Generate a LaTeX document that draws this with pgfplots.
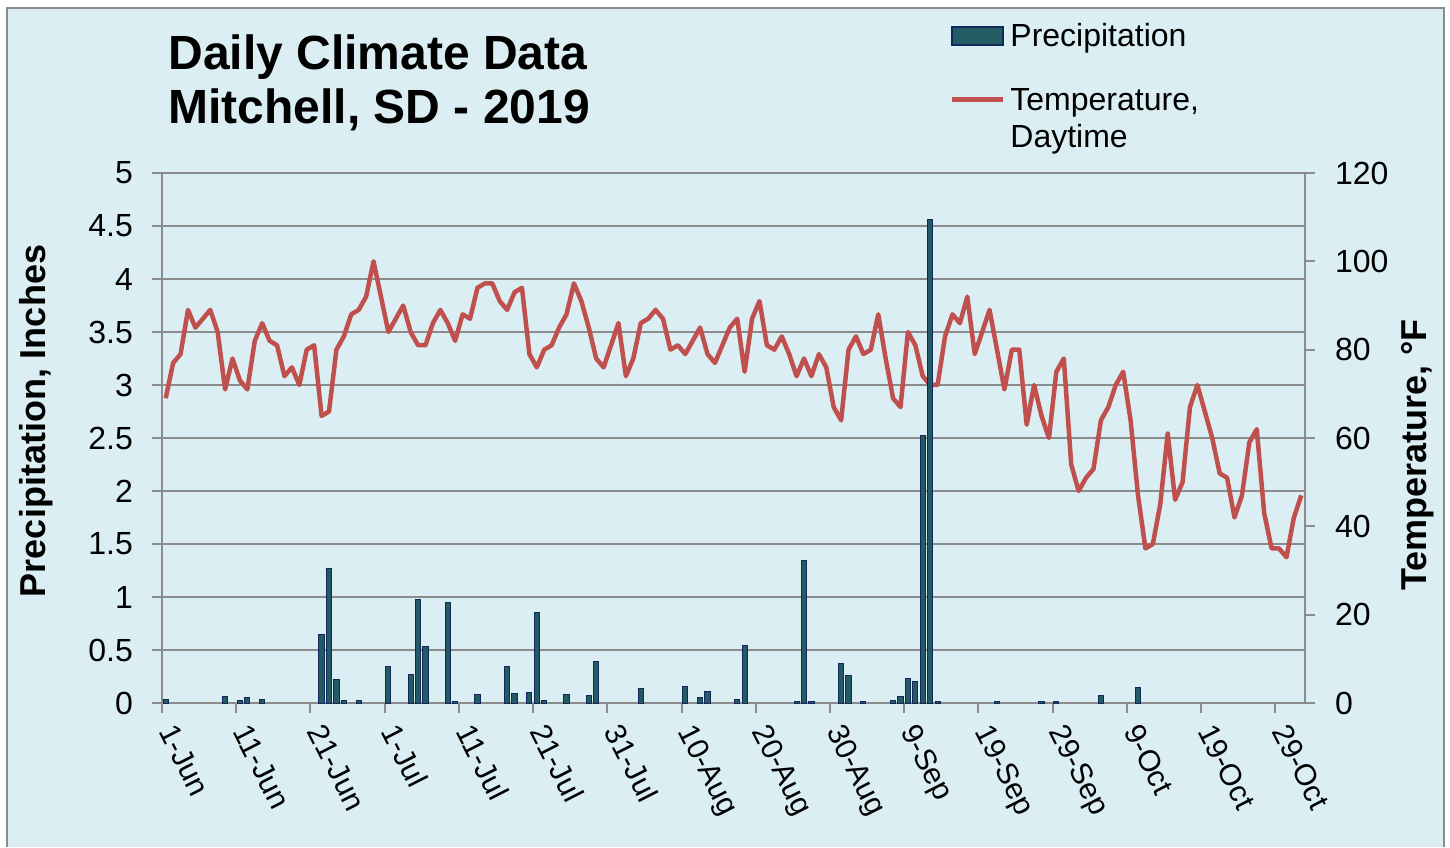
\documentclass[border=0pt]{standalone}
\usepackage{pgfplots}
\pgfplotsset{compat=1.18}
\usepackage{pgfplotstable}
\usepackage{fontspec}
\setmainfont{Liberation Sans}

\definecolor{chartbg}{HTML}{DAEEF3}
\definecolor{gridgray}{HTML}{8C8C8C}
\definecolor{tempred}{HTML}{C0504D}
\definecolor{barfill}{HTML}{235A64}
\definecolor{baredge}{HTML}{10295A}

% day 0 = 1-Jun
\pgfplotstableread{
day temp
0 69
1 77
2 79
3 89
4 85
5 87
6 89
7 84
8 71
9 78
10 73
11 71
12 82
13 86
14 82
15 81
16 74
17 76
18 72
19 80
20 81
21 65
22 66
23 80
24 83
25 88
26 89
27 92
28 100
29 92
30 84
31 87
32 90
33 84
34 81
35 81
36 86
37 89
38 86
39 82
40 88
41 87
42 94
43 95
44 95
45 91
46 89
47 93
48 94
49 79
50 76
51 80
52 81
53 85
54 88
55 95
56 91
57 85
58 78
59 76
60 81
61 86
62 74
63 78
64 86
65 87
66 89
67 87
68 80
69 81
70 79
71 82
72 85
73 79
74 77
75 81
76 85
77 87
78 75
79 87
80 91
81 81
82 80
83 83
84 79
85 74
86 78
87 74
88 79
89 76
90 67
91 64
92 80
93 83
94 79
95 80
96 88
97 78
98 69
99 67
100 84
101 81
102 74
103 72
104 72
105 83
106 88
107 86
108 92
109 79
110 84
111 89
112 80
113 71
114 80
115 80
116 63
117 72
118 65
119 60
120 75
121 78
122 54
123 48
124 51
125 53
126 64
127 67
128 72
129 75
130 64
131 47
132 35
133 36
134 45
135 61
136 46
137 50
138 67
139 72
140 66
141 60
142 52
143 51
144 42
145 47
146 59
147 62
148 43
149 35
150 35
151 33
152 42
153 47
}\temptable

\pgfplotstableread{
day precip
0 0.03
8 0.06
10 0.02
11 0.05
13 0.03
21 0.65
22 1.27
23 0.22
24 0.02
26 0.02
30 0.34
33 0.27
34 0.98
35 0.53
38 0.95
39 0.01
42 0.08
46 0.34
47 0.09
49 0.10
50 0.85
51 0.02
54 0.08
57 0.07
58 0.39
64 0.14
70 0.16
72 0.05
73 0.11
77 0.03
78 0.54
85 0.01
86 1.34
87 0.01
91 0.37
92 0.26
94 0.01
98 0.02
99 0.06
100 0.23
101 0.20
102 2.52
103 4.56
104 0.01
112 0.01
118 0.01
120 0.01
126 0.07
131 0.15
}\preciptable

\pgfplotsset{
  base/.style={
    at={(81pt,72pt)}, anchor=south west,
    scale only axis, width=571.5pt, height=265pt,
    xmin=-0.5, xmax=153.5,
    /pgf/number format/assume math mode=true,
    ticklabel style={font=\fontsize{16}{19}\selectfont},
    tick align=outside, major tick length=5pt,
    tick style={gridgray, line width=1pt},
    axis line style={gridgray, line width=1pt, -},
  },
}

\begin{document}
\begin{tikzpicture}
\useasboundingbox (0,0) rectangle (725pt,423.5pt);
\fill[white] (0,0) rectangle (725pt,423.5pt);
\fill[chartbg] (3.5pt,0) rectangle (722pt,419.5pt);
\draw[gridgray, line width=1pt] (3.5pt,0) -- (3.5pt,419.5pt) -- (722pt,419.5pt) -- (722pt,0);

% left axis, grid and dates
\begin{axis}[base,
    ymin=0, ymax=5,
    ytick={0,0.5,1,1.5,2,2.5,3,3.5,4,4.5,5},
    yticklabel style={xshift=-6pt},
    axis x line*=bottom, axis y line*=left,
    ymajorgrids, grid style={gridgray, line width=1pt},
    xtick={-0.5,9.5,...,149.5},
    xticklabels={1-Jun,11-Jun,21-Jun,1-Jul,11-Jul,21-Jul,31-Jul,10-Aug,20-Aug,30-Aug,9-Sep,19-Sep,29-Sep,9-Oct,19-Oct,29-Oct},
    xticklabel style={font=\fontsize{15}{18}\selectfont, xshift=-2pt, yshift=-9pt, rotate=-63, anchor=base west, inner sep=0pt},
]
\end{axis}

% right axis, temperature
\begin{axis}[base,
    ymin=0, ymax=120,
    ytick={0,20,...,120},
    yticklabel style={xshift=6.5pt},
    axis x line=none, axis y line*=right,
]
\addplot[tempred, line width=2.25pt, line join=round, no markers] table[x=day, y=temp] {\temptable};
\end{axis}

% precipitation bars on top
\begin{axis}[base, hide axis, ymin=0, ymax=5, bar width=0.7]
\addplot[ybar, fill=barfill, draw=baredge, line width=0.5pt] table[x=day, y=precip] {\preciptable};
\end{axis}

% titles
\node[anchor=base west, inner sep=0, font=\bfseries\fontsize{24}{27}\selectfont] at (84pt,388.5pt) {Daily Climate Data};
\node[anchor=base west, inner sep=0, font=\bfseries\fontsize{24}{27}\selectfont] at (84pt,361.5pt) {Mitchell, SD - 2019};
\node[rotate=90, inner sep=0, font=\bfseries\fontsize{18}{22}\selectfont] at (18pt,213pt) {Precipitation, Inches};
\node[rotate=90, inner sep=0, font=\bfseries\fontsize{18}{22}\selectfont] at (709pt,196pt) {Temperature, °F};

% legend
\filldraw[fill=barfill, draw=baredge, line width=0.8pt] (476pt,401pt) rectangle (501.5pt,410pt);
\node[anchor=mid west, inner sep=0, font=\fontsize{16}{19}\selectfont] at (505pt,403pt) {Precipitation};
\draw[tempred, line width=2.5pt] (476pt,373.5pt) -- (501.5pt,373.5pt);
\node[anchor=mid west, inner sep=0, font=\fontsize{16}{19}\selectfont] at (505pt,371pt) {Temperature,};
\node[anchor=mid west, inner sep=0, font=\fontsize{16}{19}\selectfont] at (505pt,352.5pt) {Daytime};
\end{tikzpicture}
\end{document}
